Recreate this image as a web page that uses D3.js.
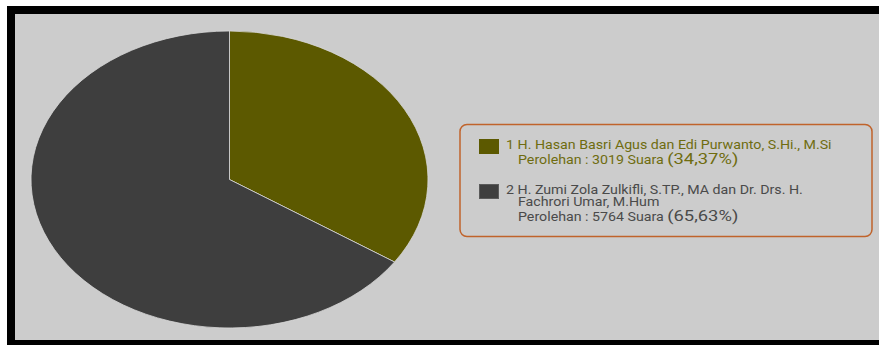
<!DOCTYPE html>
<html>
<head>
<meta charset="utf-8">
<script src="https://cdn.jsdelivr.net/npm/d3@7/dist/d3.min.js"></script>
<style>
  html, body { margin: 0; padding: 0; background: #fff; }
  svg { display: block; }
</style>
</head>
<body>
<div id="chart"></div>
<script>
var candidates = ["H. Hasan Basri Agus dan Edi Purwanto, S.Hi., M.Si",
                  "H. Zumi Zola Zulkifli, S.TP., MA dan Dr. Drs. H.|Fachrori Umar, M.Hum"];
var votes = [3019, 5764];
var colors = ["#5c5900", "#3e3e3e"];
var textColors = ["#6f6c10", "#4a4a4a"];

var width = 879, height = 345;
var stretch = 1.185; // text in the original is drawn horizontally stretched

var svg = d3.select("#chart").append("svg")
    .attr("width", width)
    .attr("height", height);

// frame
svg.append("rect")
    .attr("x", 7).attr("y", 6)
    .attr("width", width).attr("height", height)
    .attr("fill", "#000");
svg.append("rect")
    .attr("x", 15).attr("y", 14)
    .attr("width", width).attr("height", 326)
    .attr("fill", "#cccccc");

// pie (stretched horizontally like the original)
var cx = 229.5, cy = 179.5, rx = 198.5, ry = 148.5;
var total = d3.sum(votes);
var pie = d3.pie().sort(null).value(function(d) { return d; });
var arc = d3.arc().innerRadius(0).outerRadius(ry);

var g = svg.append("g")
    .attr("transform", "translate(" + cx + "," + cy + ") scale(" + (rx / ry) + ",1)");

g.selectAll("path")
    .data(pie(votes))
  .enter().append("path")
    .attr("d", arc)
    .attr("fill", function(d, i) { return colors[i]; })
    .attr("stroke", "#d8d8d8")
    .attr("stroke-width", 0.8)
    .attr("vector-effect", "non-scaling-stroke");

// legend
var legend = svg.append("g");
legend.append("rect")
    .attr("x", 460).attr("y", 124.5)
    .attr("width", 412).attr("height", 112)
    .attr("rx", 7).attr("ry", 7)
    .attr("fill", "none")
    .attr("stroke", "#c0632b")
    .attr("stroke-width", 1.5);

var fmt = function(v) { return d3.format(".2f")(v).replace(".", ","); };
var entryTop = [139, 184];

function label(x, y, color) {
  return legend.append("g")
      .attr("transform", "translate(" + x + "," + y + ") scale(" + stretch + ",1)")
    .append("text")
      .attr("font-family", "Roboto, sans-serif")
      .attr("font-size", 12)
      .attr("fill", color);
}

candidates.forEach(function(name, i) {
  var y0 = entryTop[i];
  legend.append("rect")
      .attr("x", 479.5).attr("y", y0 + 0.5)
      .attr("width", 19).attr("height", 14)
      .attr("fill", colors[i])
      .attr("stroke", i === 1 ? "#5a5a5a" : colors[i])
      .attr("stroke-width", 1);

  var lines = name.split("|");
  lines.forEach(function(l, j) {
    label(j === 0 ? 506 : 518, y0 + 9.5 + j * 12.5, textColors[i])
        .text(j === 0 ? (i + 1) + " " + l : l);
  });
  var py = y0 + 9.5 + lines.length * 12.5 + 2.5;
  var p = label(518, py, textColors[i]);
  p.append("tspan").text("Perolehan : " + votes[i] + " Suara ");
  p.append("tspan")
      .attr("font-size", 15.5)
      .text("(" + fmt(votes[i] / total * 100) + "%)");
});
</script>
</body>
</html>
